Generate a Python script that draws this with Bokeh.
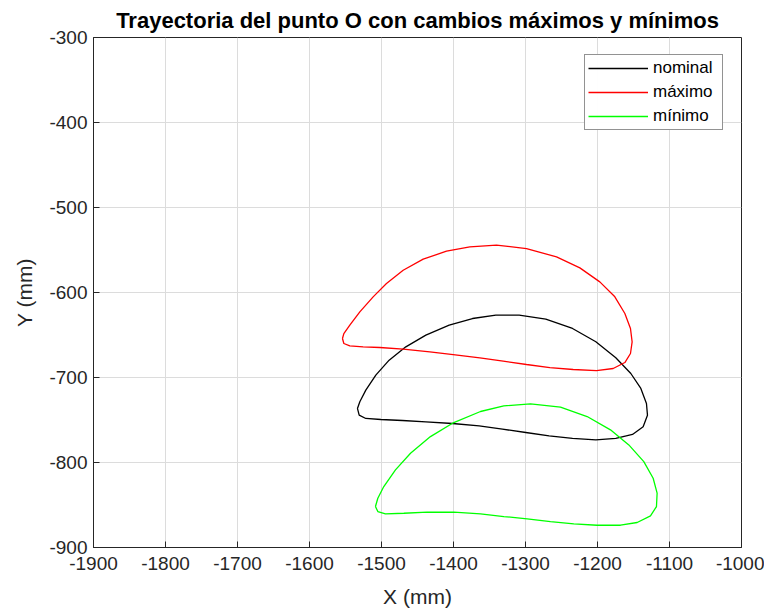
from bokeh.plotting import figure
from bokeh.models import Range1d, FixedTicker, Legend, LegendItem
from bokeh.embed import file_html
from bokeh.resources import INLINE

# Data (mm)
nominal_x = [-1533.4, -1531.0, -1521.8, -1500.9, -1470.9, -1438.4, -1401.4, -1364.4, -1332.0,
             -1299.6, -1267.2, -1234.7, -1202.3, -1174.6, -1151.4, -1136.6, -1130.6, -1132.0,
             -1139.8, -1153.7, -1174.6, -1202.3, -1234.7, -1271.8, -1308.8, -1341.2, -1373.6,
             -1406.0, -1438.4, -1466.2, -1489.4, -1507.9, -1521.8, -1530.1, -1533.4]
nominal_y = [-736.4, -744.3, -748.2, -749.4, -750.6, -752.1, -754.1, -756.8, -760.8,
             -764.7, -768.6, -771.7, -773.3, -771.7, -767.0, -758.0, -744.3, -730.6,
             -712.9, -695.3, -676.8, -658.0, -642.3, -631.3, -626.6, -626.6, -630.6,
             -638.4, -650.2, -663.9, -679.6, -697.2, -714.9, -728.6, -736.4]

maximo_x = [-1554.2, -1552.3, -1544.0, -1525.5, -1502.3, -1469.9, -1432.9, -1400.5, -1363.4,
            -1331.0, -1298.6, -1266.2, -1233.8, -1201.4, -1178.2, -1162.0, -1154.2, -1151.9,
            -1154.2, -1162.0, -1175.9, -1196.8, -1224.5, -1256.9, -1298.6, -1340.3, -1377.3,
            -1409.7, -1442.1, -1469.9, -1493.1, -1511.6, -1530.1, -1544.0, -1552.3, -1554.2]
maximo_y = [-654.1, -660.0, -662.8, -664.0, -664.7, -666.7, -669.8, -673.0, -676.9,
            -680.8, -684.7, -688.3, -690.6, -691.8, -689.4, -682.4, -671.8, -658.1,
            -642.4, -624.7, -605.1, -587.5, -571.0, -558.1, -548.3, -544.3, -546.3,
            -551.4, -560.8, -573.8, -589.4, -605.1, -622.8, -638.5, -648.3, -654.1]

minimo_x = [-1508.4, -1505.1, -1494.5, -1469.0, -1436.6, -1399.6, -1362.5, -1330.1, -1297.7,
            -1265.3, -1232.9, -1200.5, -1168.1, -1144.9, -1126.4, -1118.1, -1117.2, -1122.7,
            -1135.7, -1156.5, -1182.0, -1214.4, -1251.4, -1293.1, -1330.1, -1362.5, -1399.6,
            -1432.0, -1459.7, -1480.6, -1496.8, -1505.1, -1508.4]
minimo_y = [-851.8, -857.7, -860.4, -859.7, -858.5, -858.5, -860.4, -863.6, -866.3,
            -869.5, -872.2, -873.8, -873.8, -870.6, -862.8, -851.8, -836.1, -818.5,
            -798.9, -779.3, -761.6, -745.9, -734.9, -731.0, -733.4, -740.0, -753.0,
            -769.5, -789.1, -808.7, -828.3, -842.0, -851.8]

x_ticks = [-1900, -1800, -1700, -1600, -1500, -1400, -1300, -1200, -1100, -1000]
y_ticks = [-900, -800, -700, -600, -500, -400, -300]
series_labels = ["nominal", "máximo", "mínimo"]

TXT = "#262626"
FONT = "Liberation Sans"

p = figure(width=764, height=612, output_backend="svg", toolbar_location=None,
           x_range=Range1d(-1900, -1000), y_range=Range1d(-900, -300),
           min_border_left=93, min_border_right=23, min_border_top=37, min_border_bottom=65)
p.background_fill_color = "white"
p.border_fill_color = "white"
p.outline_line_color = TXT
p.outline_line_width = 1

p.title.text = "Trayectoria del punto O con cambios máximos y mínimos"
p.title.align = "center"
p.title.text_font = FONT
p.title.text_font_size = "22px"
p.title.text_font_style = "bold"
p.title.text_color = "black"
p.title.standoff = 9

for ax in (p.xaxis[0], p.yaxis[0]):
    ax.major_tick_in = 6
    ax.major_tick_out = 0
    ax.minor_tick_in = 0
    ax.minor_tick_out = 0
    ax.axis_line_color = TXT
    ax.major_tick_line_color = TXT
    ax.major_label_text_color = TXT
    ax.major_label_text_font = FONT
    ax.major_label_text_font_size = "19px"
    ax.axis_label_text_font = FONT
    ax.axis_label_text_font_size = "21px"
    ax.axis_label_text_font_style = "normal"
    ax.axis_label_text_color = TXT

p.xaxis[0].ticker = FixedTicker(ticks=x_ticks)
p.yaxis[0].ticker = FixedTicker(ticks=y_ticks)
p.xaxis[0].major_label_overrides = {t: str(t) for t in x_ticks}
p.yaxis[0].major_label_overrides = {t: str(t) for t in y_ticks}
p.xaxis[0].axis_label = "X (mm)"
p.yaxis[0].axis_label = "Y (mm)"
p.xaxis[0].major_label_standoff = 9
p.yaxis[0].major_label_standoff = 6
p.xaxis[0].axis_label_standoff = 12
p.yaxis[0].axis_label_standoff = 10

p.xgrid.ticker = FixedTicker(ticks=x_ticks)
p.ygrid.ticker = FixedTicker(ticks=y_ticks)
p.grid.grid_line_color = "#dcdcdc"
p.grid.grid_line_width = 1

lines = []
for xs, ys, col in ((nominal_x, nominal_y, "black"),
                    (maximo_x, maximo_y, "red"),
                    (minimo_x, minimo_y, "#00ff00")):
    r = p.line(xs, ys, line_color=col, line_width=1.3)
    lines.append(r)

legend = Legend(items=[LegendItem(label=lab, renderers=[r]) for lab, r in zip(series_labels, lines)],
                location=(491, 417))
legend.label_text_font = FONT
legend.label_text_font_size = "17px"
legend.label_text_color = "black"
legend.border_line_color = TXT
legend.border_line_width = 1
legend.glyph_width = 60
legend.glyph_height = 20
legend.label_height = 20
legend.label_width = 66
legend.spacing = 4
legend.padding = 3
legend.margin = 0
legend.label_standoff = 5
p.add_layout(legend)

open("out.html", "w").write(file_html(p, INLINE))
